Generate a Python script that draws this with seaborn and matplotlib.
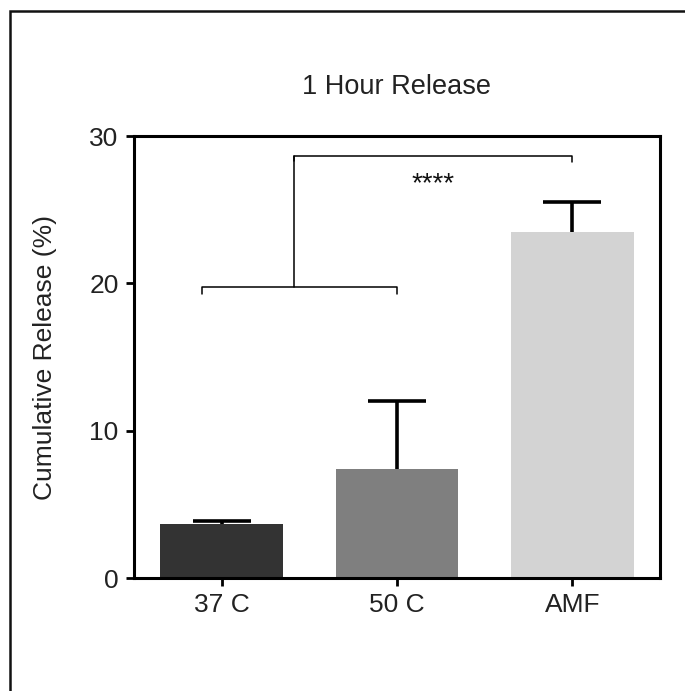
import matplotlib
matplotlib.use("Agg")
import matplotlib.pyplot as plt
import matplotlib.patches as mpatches
import seaborn as sns
import pandas as pd

# ---- data ----
categories = ["37 C", "50 C", "AMF"]
release = [3.67, 7.40, 23.48]
err_upper = [0.20, 4.61, 2.04]
bar_colors = ["#333333", "#7f7f7f", "#d3d3d3"]
yticks = [0, 10, 20, 30]
title = "1 Hour Release"
ylabel = "Cumulative Release (%)"
sig_label = "****"

sns.set_style("white")
plt.rcParams["font.family"] = ["Liberation Sans", "DejaVu Sans"]

df = pd.DataFrame({"cond": categories, "val": release})

fig = plt.figure(figsize=(6.85, 6.91), dpi=100)
ax = fig.add_axes([134 / 685, 1 - 578 / 691, (660 - 134) / 685, (578 - 136) / 691])

sns.barplot(data=df, x="cond", y="val", hue="cond", palette=bar_colors,
            order=categories, hue_order=categories, width=0.7,
            errorbar=None, legend=False, ax=ax, saturation=1, linewidth=0)

xs = list(range(len(categories)))
eb = ax.errorbar(xs, release, yerr=[[0] * len(err_upper), err_upper], fmt="none",
                 ecolor="black", elinewidth=2.6, capsize=21, capthick=2.6, zorder=3)
# only the upper caps are drawn (one-sided error bars)
eb[1][0].set_visible(False)

ax.set_xlim(-0.5, 2.5)
ax.set_ylim(0, 30)
ax.set_yticks(yticks)
ax.set_yticklabels([str(t) for t in yticks])
ax.set_xlabel("")
ax.set_ylabel(ylabel, fontsize=19, color="#222222", labelpad=23)
ax.set_title(title, fontsize=19.5, color="#222222", pad=30)

for s in ax.spines.values():
    s.set_linewidth(2.2)
    s.set_color("black")
ax.tick_params(axis="both", which="both", direction="out", length=6, width=2,
               color="black", labelsize=19, labelcolor="#222222", pad=5,
               bottom=True, left=True)

# significance brackets
lw = 1.1
ax.plot([-0.114, -0.114, 1.0, 1.0], [19.3, 19.75, 19.75, 19.3], color="black", lw=lw)
ax.plot([0.411, 0.411], [19.75, 28.64], color="black", lw=lw)
ax.plot([0.411, 0.411, 2.0, 2.0], [28.3, 28.64, 28.64, 28.24], color="black", lw=lw)
ax.text(1.206, 26.7, sig_label, ha="center", va="center", fontsize=20, color="#111111")

# outer frame (extends past right/bottom edges)
frame = mpatches.Rectangle((10 / 685, -0.05), 1.2, 1 - 11 / 691 + 0.05,
                           transform=fig.transFigure, fill=False,
                           edgecolor="#111111", linewidth=1.8)
fig.add_artist(frame)

fig.savefig("out.png", dpi=100)
